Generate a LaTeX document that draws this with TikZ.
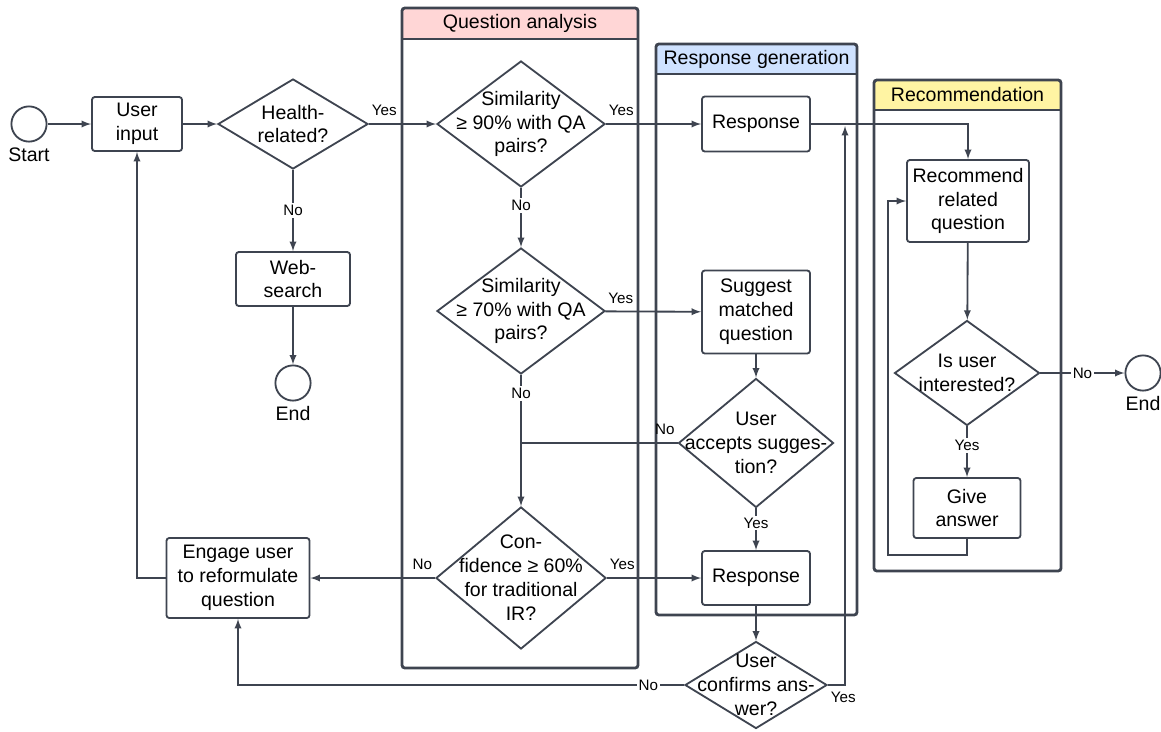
\documentclass[tikz,border=0pt]{standalone}
\usepackage{fontspec}
\setmainfont{Liberation Sans}
\usetikzlibrary{shapes.geometric}

\definecolor{lineclr}{RGB}{62,68,80}
\definecolor{qapink}{RGB}{255,214,214}
\definecolor{rgblue}{RGB}{207,226,255}
\definecolor{recyellow}{RGB}{255,244,163}

\tikzset{
  txt/.style={font=\fontsize{13.9pt}{17pt}\selectfont, align=center},
  lbl/.style={font=\fontsize{10.8pt}{13pt}\selectfont, inner sep=1.5pt},
  tagup/.style={lbl, pos=0, above right, yshift=3.5pt},
  tagleft/.style={lbl, pos=0, above left, yshift=3.5pt},
  tagdown/.style={lbl, pos=0, below right, yshift=-2.5pt},
  procbox/.style={draw=lineclr, line width=1.3pt, rounded corners=2pt, fill=white, inner sep=2pt, txt},
  decision/.style={diamond, draw=lineclr, line width=1.3pt, fill=white, inner sep=0pt},
  terminal/.style={circle, draw=lineclr, line width=1.3pt, minimum size=0.88cm, inner sep=0pt},
  lane/.style={draw=lineclr, line width=2pt, rounded corners=2pt},
  conn/.style={draw=lineclr, line width=1.3pt},
  arr/.style={conn, -latex},
}

\begin{document}
\begin{tikzpicture}[x=0.025cm, y=-0.025cm]
\useasboundingbox (0, 0) rectangle (1161, 731);

% lanes
\fill [qapink] (402, 8) rectangle (638, 39);
\draw [lane] (402, 8) rectangle (638, 668);
\draw [lane] (402, 39) -- (638, 39);
\node (qahead) [txt] at (520, 23.5) {Question analysis};

\fill [rgblue] (656, 44) rectangle (857, 74);
\draw [lane] (656, 44) rectangle (857, 615);
\draw [lane] (656, 74) -- (857, 74);
\node (rghead) [txt] at (756.5, 59) {Response generation};

\fill [recyellow] (874, 80) rectangle (1061, 110);
\draw [lane] (874, 80) rectangle (1061, 571);
\draw [lane] (874, 110) -- (1061, 110);
\node (rechead) [txt] at (967.5, 95) {Recommendation};

% nodes
\node (start) [terminal, label={[txt]below:Start}] at (29, 124) {};
\node (uin) [procbox, minimum width=2.25cm, minimum height=1.35cm] at (137, 124) {User\\input};
\node (health) [decision, minimum width=3.75cm, minimum height=2.25cm,
  label={[txt]center:{Health-\\related?}}] at (293, 124) {};
\node (web) [procbox, minimum width=2.85cm, minimum height=1.35cm] at (293, 279) {Web-\\search};
\node (end1) [terminal, label={[txt]below:End}] at (293, 383) {};

\node (sim90) [decision, minimum width=4.2cm, minimum height=3.15cm,
  label={[txt]center:{Similarity\\≥ 90\% with QA\\pairs?}}] at (521, 124) {};
\node (sim70) [decision, minimum width=4.2cm, minimum height=3.15cm,
  label={[txt]center:{Similarity\\≥ 70\% with QA\\pairs?}}] at (521, 311) {};
\node (conf) [decision, minimum width=4.25cm, minimum height=3.55cm,
  label={[txt]center:{Con-\\fidence ≥ 60\%\\for traditional\\IR?}}] at (521, 578) {};
\node (engage) [procbox, minimum width=3.575cm, minimum height=2cm] at (238, 578) {Engage user\\to reformulate\\question};

\node (resp1) [procbox, minimum width=2.7cm, minimum height=1.375cm] at (756, 124) {Response};
\node (suggest) [procbox, minimum width=2.7cm, minimum height=2.075cm] at (756, 312) {Suggest\\matched\\question};
\node (accept) [decision, minimum width=3.875cm, minimum height=3.225cm,
  label={[txt]center:{User\\accepts sugges-\\tion?}}] at (756, 443) {};
\node (resp2) [procbox, minimum width=2.7cm, minimum height=1.35cm] at (756, 578) {Response};
\node (confirm) [decision, minimum width=3.55cm, minimum height=2.175cm,
  label={[txt]center:{User\\confirms ans-\\wer?}}] at (756, 685) {};

\node (rec) [procbox, minimum width=3.05cm, minimum height=2.05cm] at (968, 201) {Recommend\\related\\question};
\node (interest) [decision, minimum width=3.625cm, minimum height=2.625cm,
  label={[txt]center:{Is user\\interested?}}] at (967, 373) {};
\node (give) [procbox, minimum width=2.675cm, minimum height=1.5cm] at (967, 508) {Give\\answer};
\node (end2) [terminal, label={[txt]below:End}] at (1143, 373) {};

\coordinate (merge) at (521, 443);
\coordinate (join) at (845, 126);
\coordinate (loop) at (888, 555);

% connectors
\draw [arr] (start) -- (uin);
\draw [arr] (uin) -- (health);
\draw [arr] (health) -- node [tagup] {Yes} (sim90);
\draw [arr] (health) -- node [lbl, fill=white] {No} (web);
\draw [arr] (web) -- (end1);

\draw [arr] (sim90) -- node [tagup] {Yes} (resp1);
\draw [arr] (sim90) -- node [lbl, fill=white, pos=0.3] {No} (sim70);
\draw [arr] (sim70) -- node [tagup] {Yes} (suggest);
\draw [arr] (sim70) -- node [lbl, fill=white, pos=0.14] {No} (conf);
\draw [arr] (conf) -- node [tagup] {Yes} (resp2);
\draw [arr] (conf) -- node [tagleft] {No} (engage);
\draw [arr] (engage) -| (uin);

\draw [arr] (suggest) -- (accept);
\draw [conn] (accept) -- node [tagleft] {No} (merge);
\draw [arr] (accept) -- node [lbl, fill=white, pos=0.35] {Yes} (resp2);
\draw [arr] (resp2) -- (confirm);
\draw [arr] (confirm) -| node [lbl, fill=white, pos=0.04] {No} (engage);
\draw [arr] (confirm) -| node [tagdown] {Yes} (join);

\draw [arr] (resp1) -| (rec);
\draw [arr] (rec) -- (interest);
\draw [arr] (interest) -- node [lbl, fill=white] {No} (end2);
\draw [arr] (interest) -- node [lbl, fill=white, pos=0.38] {Yes} (give);
\draw [arr] (give) |- (loop) |- (rec);
\end{tikzpicture}
\end{document}
